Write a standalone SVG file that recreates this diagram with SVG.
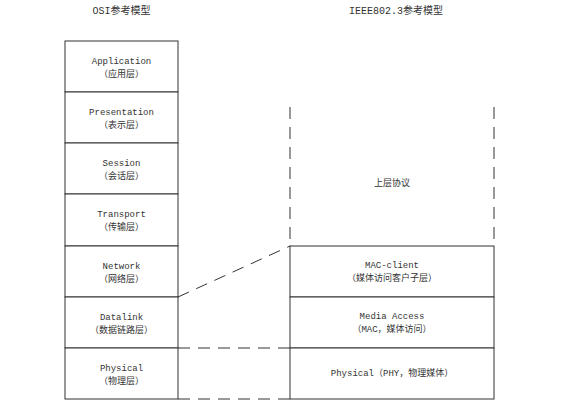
<svg xmlns="http://www.w3.org/2000/svg" width="576" height="413" viewBox="0 0 576 413">
<style>
text{font-family:"Liberation Mono","Noto Sans CJK SC",monospace;font-size:9px;fill:#333;text-anchor:middle}
.t{font-size:10px}
.box{fill:#fff;stroke:#333;stroke-width:1}
.ln{stroke:#333;stroke-width:1;fill:none}
.d{stroke:#333;stroke-width:1;fill:none;stroke-dasharray:12 8}
</style>
<rect width="576" height="413" fill="#fff"/>
<text class="t" x="121.5" y="14">OSI参考模型</text>
<text class="t" x="396" y="14">IEEE802.3参考模型</text>
<g id="osi-application"><rect class="box" x="65" y="41" width="113" height="51"/><text x="121.5" y="64">Application</text><text x="121.5" y="77">（应用层）</text></g>
<g id="osi-presentation"><rect class="box" x="65" y="92" width="113" height="51"/><text x="121.5" y="115">Presentation</text><text x="121.5" y="128">（表示层）</text></g>
<g id="osi-session"><rect class="box" x="65" y="143" width="113" height="51"/><text x="121.5" y="166">Session</text><text x="121.5" y="179">（会话层）</text></g>
<g id="osi-transport"><rect class="box" x="65" y="194" width="113" height="52"/><text x="121.5" y="217">Transport</text><text x="121.5" y="230">（传输层）</text></g>
<g id="osi-network"><rect class="box" x="65" y="246" width="113" height="51"/><text x="121.5" y="269">Network</text><text x="121.5" y="282">（网络层）</text></g>
<g id="osi-datalink"><rect class="box" x="65" y="297" width="113" height="51"/><text x="121.5" y="320">Datalink</text><text x="121.5" y="333">（数据链路层）</text></g>
<g id="osi-physical"><rect class="box" x="65" y="348" width="113" height="51"/><text x="121.5" y="371">Physical</text><text x="121.5" y="384">（物理层）</text></g>
<g id="ieee-upper"><line class="d" x1="290" y1="107" x2="290" y2="246"/><line class="d" x1="494" y1="107" x2="494" y2="246"/><text x="392" y="186">上层协议</text></g>
<g id="ieee-macclient"><rect class="box" x="290" y="246" width="204" height="51"/><text x="392" y="268">MAC-client</text><text x="392" y="281">（媒体访问客户子层）</text></g>
<g id="ieee-mac"><rect class="box" x="290" y="297" width="204" height="51"/><text x="392" y="319">Media Access</text><text x="392" y="332">（MAC，媒体访问）</text></g>
<g id="ieee-phy"><rect class="box" x="290" y="348" width="204" height="51"/><text x="392" y="376">Physical（PHY，物理媒体）</text></g>
<g id="connectors">
<line class="d" x1="178" y1="297" x2="290" y2="246"/>
<line class="d" x1="178" y1="348" x2="290" y2="348"/>
<line class="d" x1="178" y1="399" x2="290" y2="399"/>
</g>
</svg>
